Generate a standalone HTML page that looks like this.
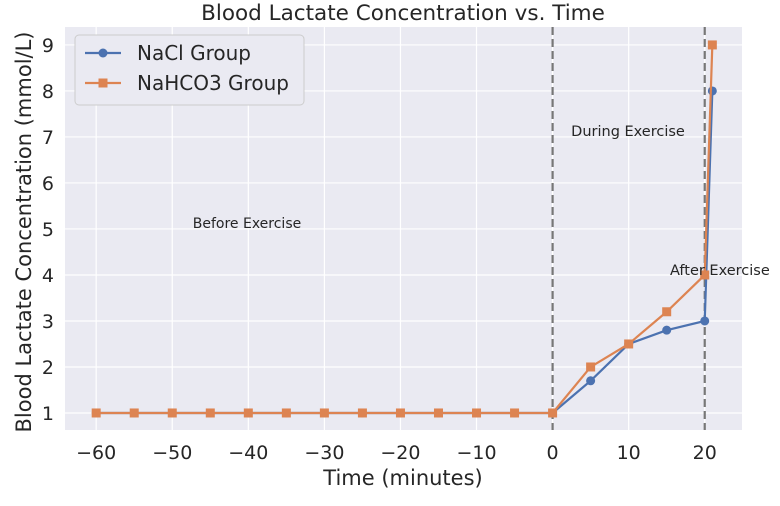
<!DOCTYPE html>
<html><head><meta charset="utf-8"><style>
body{margin:0;background:#fff;width:780px;height:501px;overflow:hidden}
svg{font-family:"DejaVu Sans","Liberation Sans",sans-serif}
</style></head><body>
<svg id="chart" width="780" height="501"></svg>
<script>
const timesNaCl=[-60,-55,-50,-45,-40,-35,-30,-25,-20,-15,-10,-5,0,5,10,15,20,21];
const naclValues=[1,1,1,1,1,1,1,1,1,1,1,1,1,1.7,2.5,2.8,3.0,8];
const timesNaHCO3=[-60,-55,-50,-45,-40,-35,-30,-25,-20,-15,-10,-5,0,5,10,15,20,21];
const nahco3Values=[1,1,1,1,1,1,1,1,1,1,1,1,1,2.0,2.5,3.2,4.0,9];
const xTicks=[-60,-50,-40,-30,-20,-10,0,10,20];
const yTicks=[1,2,3,4,5,6,7,8,9];
const vlines=[0,20];
const NS='http://www.w3.org/2000/svg';
const svg=document.getElementById('chart');
const L=65,R=742,T=27,B=430;
const xMin=-64.1,xMax=24.9,yMin=0.63,yMax=9.39;
const sx=v=>L+(v-xMin)/(xMax-xMin)*(R-L);
const sy=v=>B-(v-yMin)/(yMax-yMin)*(B-T);
function mk(tag,attrs,parent){const e=document.createElementNS(NS,tag);for(const k in attrs)e.setAttribute(k,attrs[k]);(parent||svg).appendChild(e);return e;}
const bg=mk('rect',{x:L,y:T,width:R-L,height:B-T,fill:'#eaeaf2'});


xTicks.forEach(t=>{
 const g=mk('line',{x1:sx(t),x2:sx(t),y1:T,y2:B,stroke:'#fff','stroke-width':1.2});
 
 
 const tx=mk('text',{x:sx(t),y:B+29,'text-anchor':'middle','font-size':19,fill:'#262626'});
 tx.textContent=(t<0?'\u2212'+(-t):t);
 
 
});
yTicks.forEach(t=>{
 const g=mk('line',{x1:L,x2:R,y1:sy(t),y2:sy(t),stroke:'#fff','stroke-width':1.2});
 
 
 const tx=mk('text',{x:L-11,y:sy(t)+7,'text-anchor':'end','font-size':19,fill:'#262626'});
 tx.textContent=t;
 
 
});
vlines.forEach(v=>{
 const l=mk('line',{x1:sx(v),x2:sx(v),y1:T,y2:B,stroke:'#777','stroke-width':2.2,'stroke-dasharray':'8,4'});
 
 
});
function series(xs,ys,color,marker,name){
 const pl=mk('polyline',{points:xs.map((x,i)=>sx(x)+','+sy(ys[i])).join(' '),fill:'none',stroke:color,'stroke-width':2.2});
 
 
 xs.forEach((x,i)=>{
  let m;
  if(marker==='c')m=mk('circle',{cx:sx(x),cy:sy(ys[i]),r:4.5,fill:color});
  else m=mk('rect',{x:sx(x)-4.5,y:sy(ys[i])-4.5,width:9,height:9,fill:color});
  
  
 });
}
series(timesNaCl,naclValues,'#4c72b0','c','nacl');
series(timesNaHCO3,nahco3Values,'#dd8452','s','nahco3');
function txt(x,y,s,size,name,extra){const t=mk('text',Object.assign({x:x,y:y,'font-size':size,fill:'#262626'},extra||{}));t.textContent=s;return t;}
txt(247,228,'Before Exercise',14,'annotation-before',{'text-anchor':'middle'});
txt(628,136,'During Exercise',14.5,'annotation-during',{'text-anchor':'middle'});
txt(670,275,'After Exercise',14.5,'annotation-after');
txt(403,20,'Blood Lactate Concentration vs. Time',21.5,'chart-title',{'text-anchor':'middle'});
txt(403,485,'Time (minutes)',21,'x-axis-title',{'text-anchor':'middle'});
txt(0,0,'Blood Lactate Concentration (mmol/L)',21,'y-axis-title',{'text-anchor':'middle',transform:'translate(31,232) rotate(-90)'});
const lg=mk('g',{});


mk('rect',{x:75,y:35,width:229,height:70,rx:4,fill:'#eaeaf2',stroke:'#ccc'},lg);
mk('line',{x1:85,x2:121,y1:53,y2:53,stroke:'#4c72b0','stroke-width':2.2},lg);
mk('circle',{cx:103,cy:53,r:4.5,fill:'#4c72b0'},lg);
mk('line',{x1:85,x2:121,y1:83,y2:83,stroke:'#dd8452','stroke-width':2.2},lg);
mk('rect',{x:98.5,y:78.5,width:9,height:9,fill:'#dd8452'},lg);
const l1=txt(137,60,'NaCl Group',20,'legend-entry-nacl');lg.appendChild(l1);
const l2=txt(137,90,'NaHCO3 Group',20,'legend-entry-nahco3');lg.appendChild(l2);
</script>
</body></html>
